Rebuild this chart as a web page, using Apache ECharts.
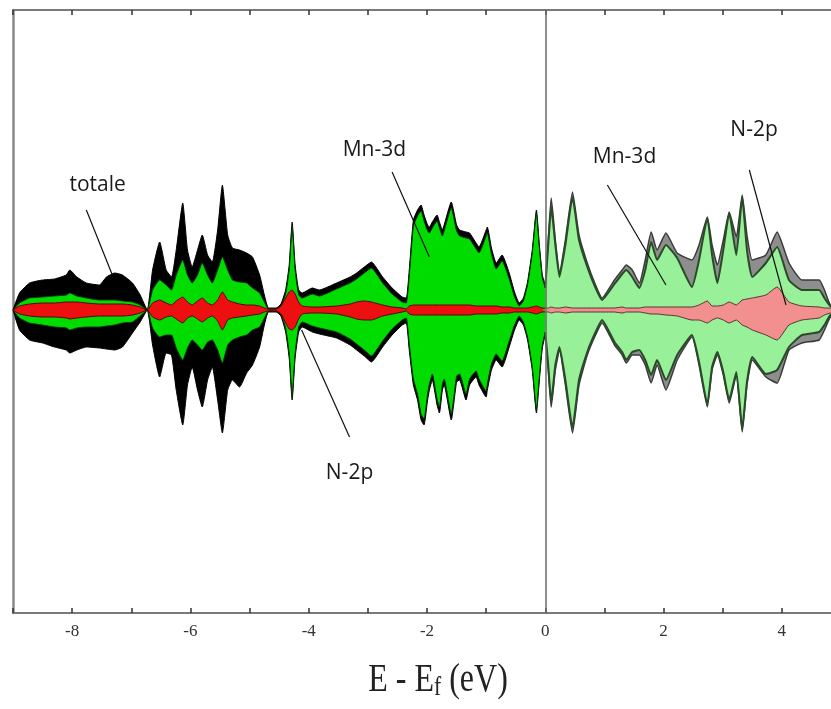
<!DOCTYPE html>
<html>
<head>
<meta charset="utf-8">
<script src="https://cdn.jsdelivr.net/npm/echarts@6/dist/echarts.min.js"></script>
<style>
html,body{margin:0;padding:0;background:#fff;}
#chart{width:831px;height:709px;}
</style>
</head>
<body>
<div id="chart"></div>
<script>
// Energy grid (E - Ef, eV)
const energy = [
 -9.00,-8.89,-8.72,-8.50,-8.30,-8.10,-8.04,-7.92,-7.76,-7.54,-7.42,-7.28,-7.15,-6.98,-6.85,-6.73,
 -6.64,-6.52,-6.41,-6.32,-6.24,-6.13,-6.05,-5.97,-5.88,-5.80,-5.71,-5.63,-5.54,-5.46,-5.37,-5.29,-5.17,-5.05,-4.95,-4.83,-4.75,-4.68,
 -4.55,-4.47,-4.39,-4.33,-4.28,-4.23,-4.17,-4.11,-3.94,-3.82,-3.53,-3.30,-3.19,-3.06,-2.94,-2.75,-2.59,-2.42,-2.35,
 -2.30,-2.23,-2.16,-2.10,-2.05,-1.99,-1.96,-1.91,-1.83,-1.79,-1.74,-1.71,-1.59,-1.50,-1.45,-1.34,-1.28,-1.17,-1.12,-1.00,-0.98,-0.91,-0.83,-0.73,-0.61,-0.52,-0.44,-0.37,-0.30,-0.22,-0.15,-0.10,-0.05,0.00,
 0.05,0.10,0.17,0.24,0.34,0.46,0.57,0.71,0.85,0.96,1.17,1.30,1.37,1.47,1.59,1.69,1.79,1.89,2.04,2.23,2.48,2.60,2.74,2.82,2.91,3.01,3.11,3.23,3.33,3.41,3.50,3.73,3.92,4.12,4.34,4.63,4.72,4.82,5.00
];
// Total DOS, spin up / spin down (magnitude)
const totalUp = [
 0,17,27,30,31,35,40,33,27,25,33,37,35,27,15,0,
 40,68,40,33,60,107,60,43,60,75,55,48,80,125,75,62,60,57,53,35,15,2,
 2,6,20,45,88,45,20,17,22,20,27,33,37,43,48,33,22,13,12,
 40,90,100,105,95,85,83,88,95,88,80,85,108,85,80,78,77,67,63,80,83,62,47,55,37,18,7,12,28,60,100,65,35,25,
 70,112,70,37,70,118,75,47,25,12,30,40,45,40,27,50,78,60,77,57,50,65,93,65,45,70,98,73,115,75,50,55,78,47,30,30,20,5,0
];
const totalDown = [
 0,20,30,33,37,40,43,40,37,38,39,40,37,23,12,0,
 35,67,43,45,80,115,75,57,80,97,70,57,90,123,80,70,77,63,55,37,15,2,
 2,6,22,48,90,48,22,17,22,24,28,35,40,46,52,37,25,15,13,
 40,75,90,110,115,90,80,70,95,103,80,75,110,72,70,90,75,67,75,87,80,60,50,57,37,20,10,15,30,60,103,70,38,25,
 60,97,60,40,75,123,75,45,25,13,35,45,53,45,45,55,73,55,80,50,27,55,97,60,45,65,93,65,122,75,50,67,73,40,33,30,20,7,0
];
// Mn-3d partial DOS
const mnUp = [
 0,7,12,13,14,15,17,14,12,10,10,10,9,8,5,0,
 20,30,25,20,35,50,35,27,35,47,35,27,40,53,40,30,28,27,22,17,8,1,
 1,4,16,40,84,40,15,12,16,14,21,27,31,37,42,27,16,8,7,
 34,84,94,99,89,79,77,82,89,82,74,79,102,79,74,72,71,61,57,74,77,56,41,49,31,13,4,9,25,57,97,62,32,22,
 65,103,65,33,65,113,70,43,22,10,26,36,40,33,22,40,68,50,65,52,23,50,92,55,27,60,97,55,113,60,33,47,63,30,20,20,12,4,0
];
const mnDown = [
 0,8,13,15,17,18,20,18,17,17,16,15,13,12,6,0,
 18,27,25,25,38,50,38,30,35,40,32,30,40,53,35,30,27,25,20,17,8,1,
 1,4,18,43,86,43,17,12,16,18,22,29,34,40,46,31,19,10,8,
 34,69,84,104,109,84,74,64,89,97,74,69,104,66,64,84,69,61,69,81,74,54,44,51,31,15,6,12,27,57,100,67,35,22,
 55,92,55,37,70,118,70,42,22,10,32,42,50,42,40,50,65,50,70,45,25,52,94,57,42,62,90,62,119,72,47,64,60,37,25,22,15,5,0
];
// N-2p partial DOS
const npUp = [
 0,4,6,7,7,8,8,8,7,6,6,6,6,5,3,0,
 7,10,7,5,9,13,8,5,9,12,7,5,10,18,10,8,6,5,5,4,2,1,
 1,4,12,18,20,16,8,4,3,3,4,6,8,9,8,5,3,2,1,
 4,5,5,5,5,5,5,5,5,5,5,5,5,5,5,5,5,4,4,4,4,4,4,3,3,2,2,2,2,3,4,3,2,2,
 2,3,2,2,3,2,2,2,2,2,2,3,2,2,2,3,3,3,3,3,3,5,9,4,4,5,8,5,10,11,12,15,23,8,4,3,2,2,0
];
const npDown = [
 0,4,6,7,7,8,9,8,7,6,6,6,6,5,3,0,
 7,10,7,6,9,13,8,6,9,12,8,6,11,20,10,8,7,6,5,4,2,1,
 1,4,13,19,20,17,9,4,3,3,4,7,9,10,10,6,4,2,1,
 4,5,5,5,5,5,5,5,5,5,5,5,5,5,5,5,5,4,4,4,4,4,4,3,3,2,2,2,2,3,4,3,2,2,
 2,3,2,2,3,2,2,2,2,2,2,3,2,2,2,3,4,4,5,6,10,10,13,10,8,10,13,10,15,17,20,25,30,15,10,8,5,3,0
];
// Axis ticks
const xTicks = [-8,-6,-4,-2,0,2,4];
// Annotations: label position and pointer line (data coordinates)
const annLabels = ['totale','Mn-3d','N-2p','Mn-3d','N-2p'];
const annText = [[-7.57,125],[-2.89,160],[-3.31,-163],[1.34,153],[3.53,180]];
const annFrom = [[-7.76,100],[-2.59,138],[-4.12,-20],[1.05,125],[3.45,140]];
const annTo   = [[-7.32,35],[-1.96,53],[-3.31,-127],[2.04,25],[4.07,5]];

function seg(vals, sign, neg){
  const out=[];
  energy.forEach((e,i)=>{ if(neg ? e<=0 : e>=0) out.push([e, sign*vals[i]]); });
  return out;
}
function area(vals, sign, neg, fill, stroke, w){
  return {type:'line', data:seg(vals,sign,neg), symbol:'none', smooth:0.15,
    lineStyle:{color:stroke,width:w}, areaStyle:{color:fill,opacity:1}, silent:true, animation:false};
}
const series=[];
[[1,totalUp],[-1,totalDown]].forEach(([s,v])=>{
  series.push(area(v,s,true,'#000000','#000000',1));
  series.push(area(v,s,false,'#8e8e8e','#3a3a3a',1.5));
});
[[1,mnUp],[-1,mnDown]].forEach(([s,v])=>{
  series.push(area(v,s,true,'#00dc00','#0a3a0a',1));
  series.push(area(v,s,false,'#98f098','#2a4a2a',2));
});
[[1,npUp],[-1,npDown]].forEach(([s,v])=>{
  series.push(area(v,s,true,'#ee1010','#550000',1));
  series.push(area(v,s,false,'#f29090','#5a3030',1));
});
series.push({
  type:'line', data:[], silent:true, animation:false, z:10,
  markLine:{symbol:['none','none'], silent:true, animation:false, label:{show:false},
    data:[
      [{xAxis:0,yAxis:300,lineStyle:{color:'#6a6a6a',width:1.5,type:'solid'}},{xAxis:0,yAxis:-303}]
    ].concat(annFrom.map((f,i)=>[{coord:f,lineStyle:{color:'#111',width:1.2,type:'solid'}},{coord:annTo[i]}]))
  },
  markPoint:{symbol:'circle', symbolSize:0, silent:true, animation:false,
    data: annText.map((c,i)=>({coord:c, name:annLabels[i],
      label:{show:true, position:'inside', formatter:annLabels[i], color:'#1a1a1a',
        fontFamily:'Open Sans', fontSize:21}}))
  }
});

const chart = echarts.init(document.getElementById('chart'), null, {renderer:'canvas'});
const axisCommon = {type:'value', min:-9, max:5, interval:1,
  axisLine:{show:true, onZero:false, lineStyle:{color:'#7a7a7a', width:2}},
  axisTick:{show:true, inside:true, length:5, lineStyle:{color:'#333', width:1.5}},
  splitLine:{show:false}};
chart.setOption({
  animation:false,
  backgroundColor:'#ffffff',
  grid:{left:13, right:-10, top:10, bottom:96, containLabel:false, outerBoundsMode:'none'},
  xAxis:[
    Object.assign({}, axisCommon, {position:'bottom',
      axisLabel:{show:true, margin:10, color:'#333', fontFamily:'Liberation Serif', fontSize:17,
        formatter:v=> xTicks.indexOf(v)>=0 ? String(v) : ''}}),
    Object.assign({}, axisCommon, {position:'top', axisLabel:{show:false}})
  ],
  yAxis:{type:'value', min:-303, max:300,
    axisLine:{show:true, onZero:false, lineStyle:{color:'#8a8a8a', width:2.5}},
    axisTick:{show:false}, axisLabel:{show:false}, splitLine:{show:false}},
  graphic:[{
    type:'text', x:438, y:680, scaleX:0.8, silent:true,
    style:{text:'{a|E - E}{s|f}{a| (eV)}', textAlign:'center', textVerticalAlign:'middle',
      rich:{a:{fontFamily:'Liberation Serif', fontSize:40, fill:'#222', color:'#222'},
            s:{fontFamily:'Liberation Serif', fontSize:27, fill:'#222', color:'#222', padding:[16,0,0,0]}}}
  }],
  series: series
});
</script>
</body>
</html>
